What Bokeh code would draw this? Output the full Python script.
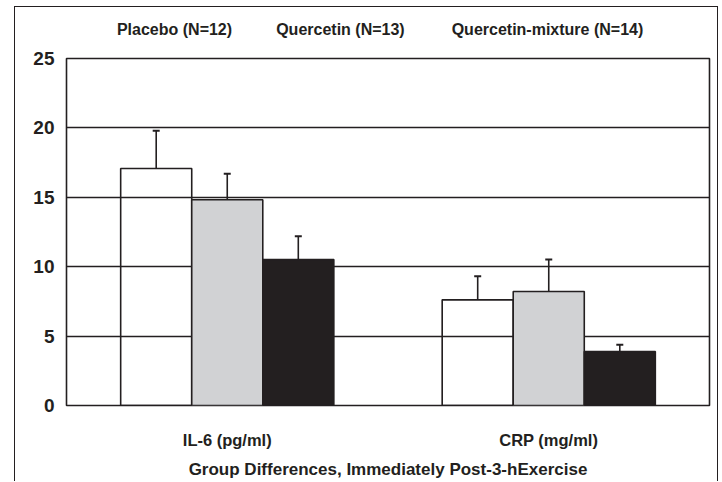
from bokeh.plotting import figure
from bokeh.models import (ColumnDataSource, FixedTicker, Range1d, LinearAxis,
                          Whisker, TeeHead)
from bokeh.transform import dodge
from bokeh.embed import file_html
from bokeh.resources import INLINE

categories = ["IL-6 (pg/ml)", "CRP (mg/ml)"]
series_names = ["Placebo (N=12)", "Quercetin (N=13)", "Quercetin-mixture (N=14)"]
placebo = [17.07, 7.61]
placebo_err = [2.72, 1.71]
quercetin = [14.82, 8.21]
quercetin_err = [1.87, 2.31]
mixture = [10.52, 3.89]
mixture_err = [1.68, 0.48]
y_ticks = [0, 5, 10, 15, 20, 25]
x_title = "Group Differences, Immediately Post-3-hExercise"

INK = "#231f20"
FONT = "Liberation Sans"

cat_pos = [i + 0.5 for i in range(len(categories))]

p = figure(width=722, height=482, x_range=Range1d(0, len(categories)), y_range=(0, 25),
           output_backend="svg", toolbar_location=None,
           min_border_left=66, min_border_right=13, min_border_top=58, min_border_bottom=77)
p.background_fill_color = "white"
p.border_fill_color = "white"
p.outline_line_color = INK
p.outline_line_width = 1.6

p.ygrid.ticker = FixedTicker(ticks=y_ticks[1:-1])
p.ygrid.grid_line_color = INK
p.ygrid.grid_line_width = 1.3
p.xgrid.grid_line_color = None

bw = 0.221
specs = [(placebo, placebo_err, -bw, None), (quercetin, quercetin_err, 0.0, "#d1d2d4"),
         (mixture, mixture_err, bw, INK)]
for vals, errs, off, fill in specs:
    src = ColumnDataSource(dict(x=cat_pos, val=vals,
                                top=[v + e for v, e in zip(vals, errs)]))
    p.vbar(x=dodge("x", off), top="val", bottom=0, width=bw,
           source=src, fill_color=fill, line_color=INK, line_width=1.6)
    w = Whisker(base=dodge("x", off), lower="val", upper="top",
                source=src, dimension="height", line_color=INK, line_width=1.6,
                lower_head=None,
                upper_head=TeeHead(size=7, line_color=INK, line_width=2))
    p.add_layout(w)

# axes
p.yaxis.ticker = FixedTicker(ticks=y_ticks)
p.yaxis.axis_line_color = None
p.yaxis.major_tick_line_color = None
p.yaxis.minor_tick_line_color = None
p.yaxis.major_label_text_font = FONT
p.yaxis.major_label_text_font_style = "bold"
p.yaxis.major_label_text_font_size = "19px"
p.yaxis.major_label_text_color = INK
p.yaxis.major_label_standoff = 6

p.xaxis.ticker = FixedTicker(ticks=cat_pos)
p.xaxis.major_label_overrides = {k: c for k, c in zip(cat_pos, categories)}
p.xaxis.axis_line_color = None
p.xaxis.major_tick_line_color = None
p.xaxis.minor_tick_line_color = None
p.xaxis.major_label_text_font = FONT
p.xaxis.major_label_text_font_style = "bold"
p.xaxis.major_label_text_font_size = "16.5px"
p.xaxis.major_label_text_color = INK
p.xaxis.major_label_standoff = 19
p.xaxis.axis_label = x_title
p.xaxis.axis_label_text_font = FONT
p.xaxis.axis_label_text_font_style = "bold"
p.xaxis.axis_label_text_font_size = "17px"
p.xaxis.axis_label_text_color = INK
p.xaxis.axis_label_standoff = 8

# series names as an axis along the top
legend_pos = [0.336, 0.852, 1.496]
top_axis = LinearAxis(ticker=FixedTicker(ticks=legend_pos),
                      major_label_overrides={k: n for k, n in zip(legend_pos, series_names)},
                      axis_line_color=None, major_tick_line_color=None,
                      minor_tick_line_color=None, major_label_standoff=15,
                      major_label_text_font=FONT, major_label_text_font_style="bold",
                      major_label_text_font_size="16px", major_label_text_color=INK)
p.add_layout(top_axis, "above")

html = file_html(p, INLINE)
frame_box = ('<div style="position:absolute;left:14px;top:6px;width:702px;height:474px;'
             'border:1.5px solid #231f20;border-bottom:none;pointer-events:none;'
             'z-index:10"></div>')
html = html.replace("</body>", frame_box + "\n</body>", 1)
html = html.replace("<head>", "<head>\n<style>html,body{margin:0;overflow:hidden}</style>", 1)
open("out.html", "w").write(html)
